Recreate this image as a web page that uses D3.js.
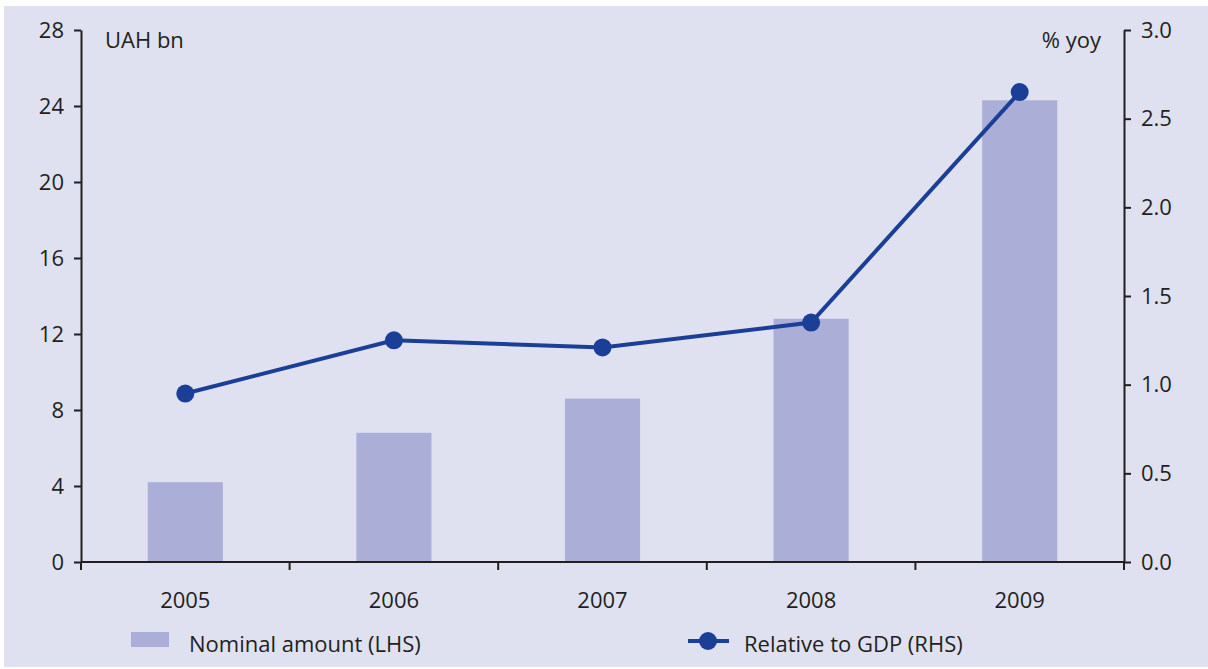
<!DOCTYPE html>
<html>
<head>
<meta charset="utf-8">
<script src="https://cdn.jsdelivr.net/npm/d3@7"></script>
<style>
  html, body { margin: 0; padding: 0; background: #ffffff; }
  svg { display: block; }
  text { font-family: "Open Sans", "Noto Sans", sans-serif; fill: #231f20; }
</style>
</head>
<body>
<svg id="chart" width="1208" height="669"></svg>
<script>
// Ukrainian nominal amount (UAH bn, left axis) and its ratio to GDP (% yoy, right axis)
const years = ["2005", "2006", "2007", "2008", "2009"];
const nominalAmount = [4.2, 6.8, 8.6, 12.8, 24.3];
const relativeToGdp = [0.95, 1.25, 1.21, 1.35, 2.65];
const leftTicks = [0, 4, 8, 12, 16, 20, 24, 28];
const rightTicks = [0, 0.5, 1.0, 1.5, 2.0, 2.5, 3.0];

const svg = d3.select("#chart");
const W = 1208, H = 669;
const margin = { left: 81, right: 84, top: 30, bottom: 107 };
const plotL = margin.left, plotR = W - margin.right;
const plotT = margin.top, plotB = H - margin.bottom;
const fs = 22;

const barColor = "#abaed6";
const lineColor = "#1b3f97";
const axisColor = "#231f20";

// panel background
svg.append("rect")
  .attr("x", 4).attr("y", 6).attr("width", W - 4).attr("height", H - 8)
  .attr("fill", "#dfe1f0");

const x = d3.scaleBand().domain(years).range([plotL, plotR]).padding(0);
const yL = d3.scaleLinear().domain([0, 28]).range([plotB, plotT]);
const yR = d3.scaleLinear().domain([0, 3]).range([plotB, plotT]);
const barW = x.bandwidth() * 0.36;

// bars
svg.append("g").selectAll("rect")
  .data(years)
  .join("rect")
  .attr("x", (d) => x(d) + x.bandwidth() / 2 - barW / 2)
  .attr("width", barW)
  .attr("y", (d, i) => yL(nominalAmount[i]))
  .attr("height", (d, i) => yL(0) - yL(nominalAmount[i]))
  .attr("fill", barColor);

// axes
function styleAxis(g) {
  g.selectAll(".domain").attr("stroke", axisColor).attr("stroke-width", 2);
  g.selectAll(".tick line").attr("stroke", axisColor).attr("stroke-width", 2);
  g.selectAll(".tick text").attr("font-size", fs).attr("fill", axisColor)
    .style("font-family", '"Open Sans", "Noto Sans", sans-serif');
}

svg.append("g")
  .attr("transform", `translate(${plotL},0)`)
  .call(d3.axisLeft(yL).tickValues(leftTicks).tickFormat(d3.format("d"))
    .tickSizeInner(7).tickSizeOuter(0).tickPadding(10))
  .call(styleAxis);

svg.append("g")
  .attr("transform", `translate(${plotR},0)`)
  .call(d3.axisRight(yR).tickValues(rightTicks).tickFormat(d3.format(".1f"))
    .tickSizeInner(7).tickSizeOuter(0).tickPadding(10))
  .call(styleAxis);

// category axis: ticks on band boundaries, labels at band centres
const bottom = svg.append("g").attr("transform", `translate(0,${plotB})`);
bottom.append("line")
  .attr("x1", plotL).attr("x2", plotR).attr("y1", 0).attr("y2", 0)
  .attr("stroke", axisColor).attr("stroke-width", 2);
const bounds = years.map((d) => x(d)).concat([plotR]);
bottom.selectAll("line.tk")
  .data(bounds)
  .join("line")
  .attr("class", "tk")
  .attr("x1", (d) => d).attr("x2", (d) => d)
  .attr("y1", 0).attr("y2", 8)
  .attr("stroke", axisColor).attr("stroke-width", 2);
bottom.selectAll("text")
  .data(years)
  .join("text")
  .attr("x", (d) => x(d) + x.bandwidth() / 2)
  .attr("y", 46)
  .attr("text-anchor", "middle")
  .attr("font-size", fs)
  .text((d) => d);

// unit labels
svg.append("text").attr("x", 105).attr("y", 48).attr("font-size", fs).text("UAH bn");
svg.append("text").attr("x", 1101).attr("y", 48).attr("font-size", fs)
  .attr("text-anchor", "end").text("% yoy");

// line series (right axis)
const line = d3.line()
  .x((d, i) => x(years[i]) + x.bandwidth() / 2)
  .y((d) => yR(d));
svg.append("path")
  .datum(relativeToGdp)
  .attr("d", line)
  .attr("fill", "none")
  .attr("stroke", lineColor)
  .attr("stroke-width", 4);
svg.append("g").selectAll("circle")
  .data(relativeToGdp)
  .join("circle")
  .attr("cx", (d, i) => x(years[i]) + x.bandwidth() / 2)
  .attr("cy", (d) => yR(d))
  .attr("r", 9)
  .attr("fill", lineColor);

// legend
const legend = svg.append("g");
legend.append("rect").attr("x", 131).attr("y", 632).attr("width", 38).attr("height", 15)
  .attr("fill", barColor);
legend.append("text").attr("x", 189).attr("y", 652).attr("font-size", fs)
  .text("Nominal amount (LHS)");
legend.append("line").attr("x1", 688).attr("x2", 729).attr("y1", 641).attr("y2", 641)
  .attr("stroke", lineColor).attr("stroke-width", 4);
legend.append("circle").attr("cx", 708).attr("cy", 641).attr("r", 9).attr("fill", lineColor);
legend.append("text").attr("x", 744).attr("y", 652).attr("font-size", fs)
  .text("Relative to GDP (RHS)");
</script>
</body>
</html>
